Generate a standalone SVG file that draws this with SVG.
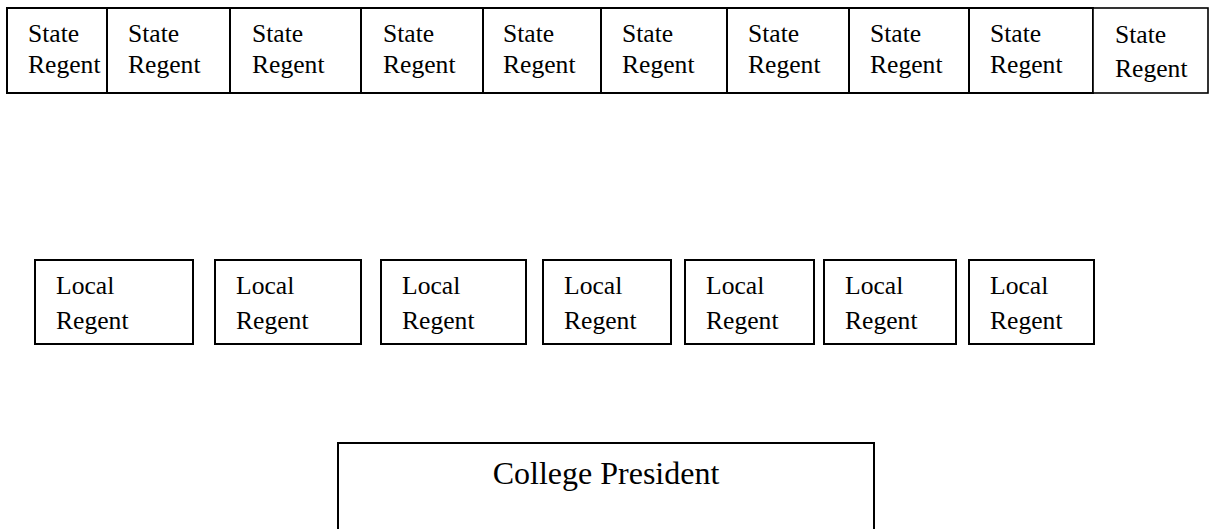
<svg xmlns="http://www.w3.org/2000/svg" width="1212" height="529" viewBox="0 0 1212 529">
<style>
.box{fill:#fff;stroke:#000;stroke-width:2}
.t{font-family:"Liberation Serif","Times New Roman",serif;font-size:25.6px;fill:#000}
.tp{font-family:"Liberation Serif","Times New Roman",serif;font-size:32px;fill:#000}
</style>
<rect width="1212" height="529" fill="#fff"/>
<g id="connectors"></g>
<g id="state1"><rect class="box" x="7" y="8" width="100" height="85"/><text class="t" x="28" y="42">State</text><text class="t" x="28" y="73">Regent</text></g>
<g id="state2"><rect class="box" x="107" y="8" width="123" height="85"/><text class="t" x="128" y="42">State</text><text class="t" x="128" y="73">Regent</text></g>
<g id="state3"><rect class="box" x="230" y="8" width="131" height="85"/><text class="t" x="252" y="42">State</text><text class="t" x="252" y="73">Regent</text></g>
<g id="state4"><rect class="box" x="361" y="8" width="122" height="85"/><text class="t" x="383" y="42">State</text><text class="t" x="383" y="73">Regent</text></g>
<g id="state5"><rect class="box" x="483" y="8" width="118" height="85"/><text class="t" x="503" y="42">State</text><text class="t" x="503" y="73">Regent</text></g>
<g id="state6"><rect class="box" x="601" y="8" width="126" height="85"/><text class="t" x="622" y="42">State</text><text class="t" x="622" y="73">Regent</text></g>
<g id="state7"><rect class="box" x="727" y="8" width="122" height="85"/><text class="t" x="748" y="42">State</text><text class="t" x="748" y="73">Regent</text></g>
<g id="state8"><rect class="box" x="849" y="8" width="120" height="85"/><text class="t" x="870" y="42">State</text><text class="t" x="870" y="73">Regent</text></g>
<g id="state9"><rect class="box" x="969" y="8" width="124" height="85"/><text class="t" x="990" y="42">State</text><text class="t" x="990" y="73">Regent</text></g>
<g id="state10"><rect class="box" x="1093" y="8" width="115" height="85" style="stroke-width:1.6"/><text class="t" x="1115" y="43">State</text><text class="t" x="1115" y="77">Regent</text></g>
<g id="local1"><rect class="box" x="35" y="260" width="158" height="84"/><text class="t" x="56" y="294">Local</text><text class="t" x="56" y="329">Regent</text></g>
<g id="local2"><rect class="box" x="215" y="260" width="146" height="84"/><text class="t" x="236" y="294">Local</text><text class="t" x="236" y="329">Regent</text></g>
<g id="local3"><rect class="box" x="381" y="260" width="145" height="84"/><text class="t" x="402" y="294">Local</text><text class="t" x="402" y="329">Regent</text></g>
<g id="local4"><rect class="box" x="543" y="260" width="128" height="84"/><text class="t" x="564" y="294">Local</text><text class="t" x="564" y="329">Regent</text></g>
<g id="local5"><rect class="box" x="685" y="260" width="129" height="84"/><text class="t" x="706" y="294">Local</text><text class="t" x="706" y="329">Regent</text></g>
<g id="local6"><rect class="box" x="824" y="260" width="132" height="84"/><text class="t" x="845" y="294">Local</text><text class="t" x="845" y="329">Regent</text></g>
<g id="local7"><rect class="box" x="969" y="260" width="125" height="84"/><text class="t" x="990" y="294">Local</text><text class="t" x="990" y="329">Regent</text></g>
<g id="president"><rect class="box" x="338" y="443" width="536" height="100"/><text class="tp" x="606" y="484" text-anchor="middle">College President</text></g>
</svg>
